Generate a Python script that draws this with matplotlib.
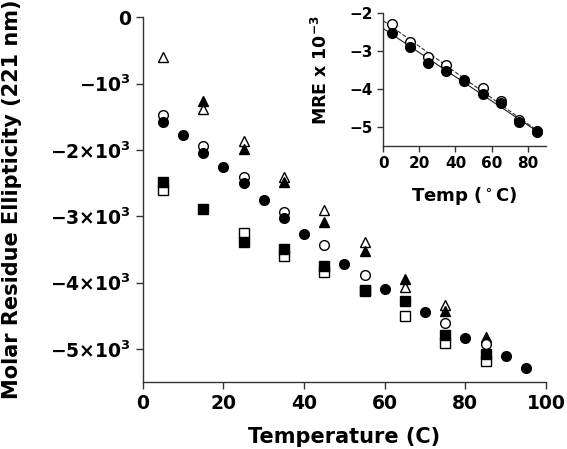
import numpy as np
import matplotlib
matplotlib.use("Agg")
import matplotlib.pyplot as plt

plt.rcParams['font.family'] = ['DejaVu Sans']
plt.rcParams['font.weight'] = 'bold'
plt.rcParams['mathtext.fontset'] = 'dejavusans'
plt.rcParams['mathtext.default'] = 'bf'

# ---- main panel data ----
t_fc = [5, 10, 15, 20, 25, 30, 35, 40, 50, 60, 70, 80, 90, 95]
v_fc = [-1575, -1775, -2051, -2253, -2504, -2760, -3022, -3270, -3721, -4098, -4449, -4832, -5104, -5285]

t_oc = [5, 15, 25, 35, 45, 55, 75, 85]
v_oc = [-1474, -1941, -2413, -2931, -3434, -3887, -4615, -4927]

t_ot = [5, 15, 25, 35, 45, 55, 65, 75]
v_ot = [-594, -1383, -1866, -2404, -2906, -3384, -4063, -4339]

t_ft = [15, 25, 35, 45, 55, 65, 75, 85]
v_ft = [-1262, -1986, -2480, -3092, -3530, -3952, -4430, -4817]

t_fs = [5, 15, 25, 35, 45, 55, 65, 75, 85]
v_fs = [-2487, -2891, -3394, -3495, -3746, -4118, -4274, -4792, -5078]

t_os = [5, 25, 35, 45, 55, 65, 75, 85]
v_os = [-2605, -3248, -3600, -3846, -4135, -4500, -4917, -5184]

y_ticks = [0, -1000, -2000, -3000, -4000, -5000]
y_ticklabels = ['0', '−10$^3$', '−2×10$^3$', '−3×10$^3$', '−4×10$^3$', '−5×10$^3$']
x_ticks = [0, 20, 40, 60, 80, 100]

# ---- inset data (MRE x 10^-3) ----
ti_f = [5, 15, 25, 35, 45, 55, 65, 75, 85]
vi_f = [-2.54, -2.89, -3.31, -3.54, -3.78, -4.14, -4.37, -4.86, -5.13]
ti_o = [5, 15, 25, 35, 45, 55, 65, 75, 85]
vi_o = [-2.30, -2.78, -3.15, -3.37, -3.76, -3.97, -4.33, -4.82, -5.10]
fit_range = [0, 87]

fig = plt.figure(figsize=(5.67, 4.49), dpi=100)
ax = fig.add_axes([0.2517, 0.1492, 0.963 - 0.2517, 0.9615 - 0.1492])

ms = 7
ax.plot(t_ot, v_ot, '^', ms=ms, mfc='white', mec='black', mew=1.0, ls='none')
ax.plot(t_ft, v_ft, '^', ms=ms, mfc='black', mec='black', ls='none')
ax.plot(t_os, v_os, 's', ms=ms - 0.5, mfc='white', mec='black', mew=1.0, ls='none')
ax.plot(t_fs, v_fs, 's', ms=ms - 0.5, mfc='black', mec='black', ls='none')
ax.plot(t_oc, v_oc, 'o', ms=ms, mfc='white', mec='black', mew=1.0, ls='none')
ax.plot(t_fc, v_fc, 'o', ms=ms, mfc='black', mec='black', ls='none')

ax.set_xlim(0, 100)
ax.set_ylim(-5500, 0)
ax.set_xticks(x_ticks)
ax.set_yticks(y_ticks)
ax.set_yticklabels(y_ticklabels)
for s in ['top', 'right']:
    ax.spines[s].set_visible(False)
for s in ['left', 'bottom']:
    ax.spines[s].set_color('#333333')
    ax.spines[s].set_linewidth(1.0)
ax.tick_params(direction='out', length=5, width=1, colors='#333333', labelcolor='black', labelsize=13.5)
for lab in ax.get_xticklabels() + ax.get_yticklabels():
    lab.set_fontweight('bold')
ax.set_xlabel('Temperature (C)', fontsize=15, fontweight='bold')
ax.xaxis.set_label_coords(0.499, -0.122)
ax.set_ylabel('Molar Residue Ellipticity (221 nm)', fontsize=15, fontweight='bold')
ax.yaxis.set_label_coords(-0.30, 0.5)

# ---- inset ----
ins = fig.add_axes([0.676, 0.6748, 0.9624 - 0.676, 0.9717 - 0.6748])
xf = np.array(fit_range)
pf = np.polyfit(ti_f, vi_f, 1)
po = np.polyfit(ti_o, vi_o, 1)
ins.plot(xf, np.polyval(po, xf), color='#333333', lw=0.8, ls='--')
ins.plot(xf, np.polyval(pf, xf), color='#222222', lw=0.8, ls='-')
ins.plot(ti_o, vi_o, 'o', ms=7, mfc='white', mec='black', mew=1.0, ls='none')
ins.plot(ti_f, vi_f, 'o', ms=7, mfc='black', mec='black', ls='none')
ins.set_xlim(0, 90)
ins.set_ylim(-5.5, -2)
ins.set_xticks([0, 20, 40, 60, 80])
ins.set_yticks([-2, -3, -4, -5])
ins.set_yticklabels(['−2', '−3', '−4', '−5'])
for s in ['top', 'right']:
    ins.spines[s].set_visible(False)
for s in ['left', 'bottom']:
    ins.spines[s].set_color('#333333')
    ins.spines[s].set_linewidth(1.0)
ins.tick_params(direction='out', length=4, width=1, colors='#333333', labelcolor='black', labelsize=11)
for lab in ins.get_xticklabels() + ins.get_yticklabels():
    lab.set_fontweight('bold')
ins.set_xlabel('Temp ($^\\circ$C)', fontsize=13, fontweight='bold', labelpad=10)
ins.set_ylabel('MRE x 10$^{-3}$', fontsize=12.5, fontweight='bold')
ins.yaxis.set_label_coords(-0.32, 0.57)

fig.savefig('out.png', dpi=100)
